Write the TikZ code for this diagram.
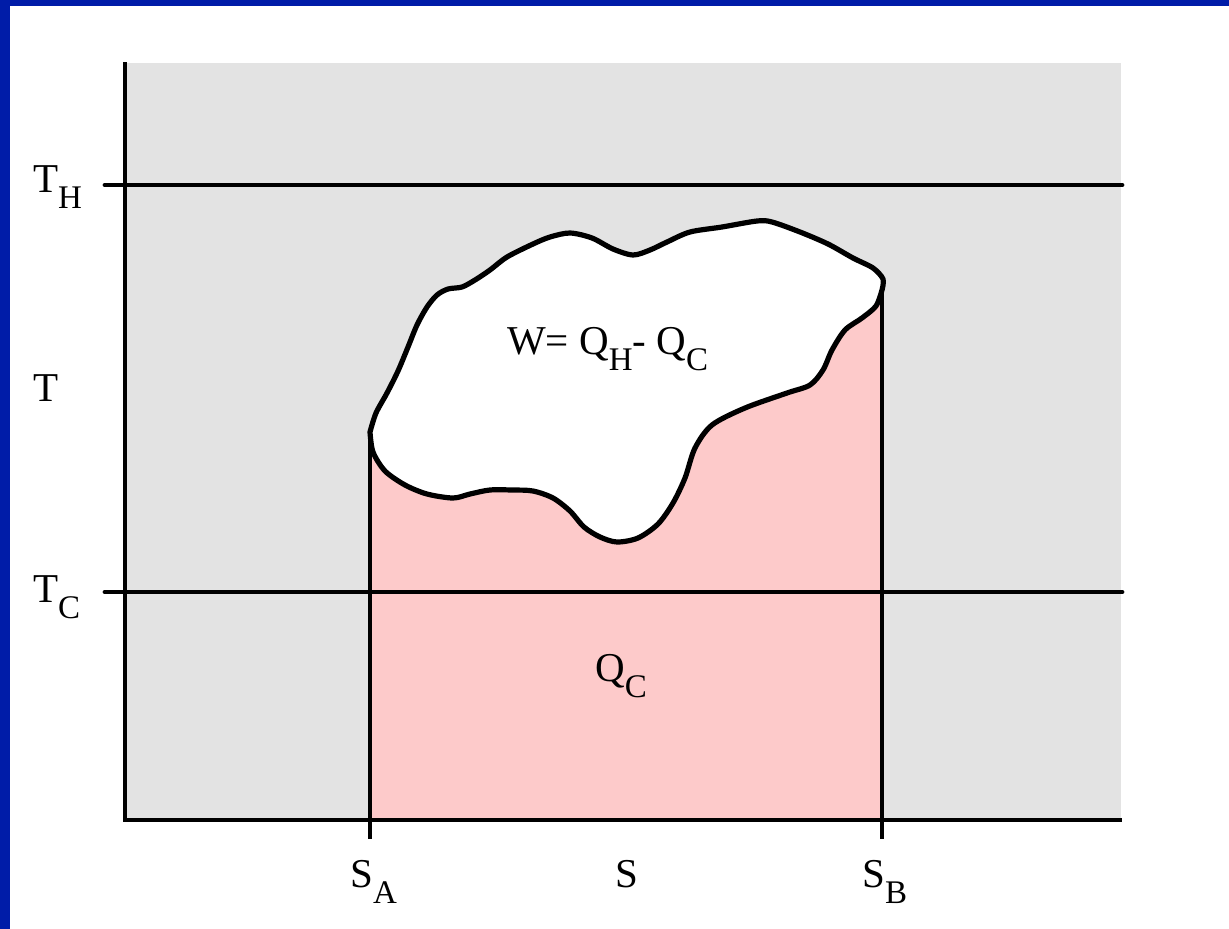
\documentclass[tikz,border=0pt]{standalone}
\usepackage{fontspec}
\setmainfont{Liberation Serif}
\definecolor{frameblue}{RGB}{0,28,168}
\definecolor{plotgray}{RGB}{227,227,227}
\definecolor{heatpink}{RGB}{253,202,202}
\newcommand\lsub[1]{\raisebox{-16pt}{\fontsize{33}{33}\selectfont #1}}
\tikzset{
  lbl/.style={inner sep=0pt, anchor=base west, font=\fontsize{41}{41}\selectfont},
  axisline/.style={line width=4.8pt, black},
  blobline/.style={line width=5.2pt, black, line join=round},
}
\begin{document}
\begin{tikzpicture}[x=1pt,y=-1pt]
\useasboundingbox (0,0) rectangle (1229,929);
\fill[white] (0,0) rectangle (1229,929);
\fill[frameblue] (0,0) rectangle (1229,6);
\fill[frameblue] (0,0) rectangle (10,929);
% plot area
\fill[plotgray] (125,63) rectangle (1121,820);
% coordinates
\coordinate (top) at (125,62);
\coordinate (origin) at (125,820);
\coordinate (xend) at (1122,820);
\coordinate (thl) at (105,185);
\coordinate (thr) at (1122,185);
\coordinate (tcl) at (105,592);
\coordinate (tcr) at (1122,592);
\coordinate (A) at (370,432);
\coordinate (B) at (882,290);
\coordinate (Abot) at (370,839);
\coordinate (Bbot) at (882,839);
\def\bottomcurve{(370,432) (373,452) (385,471) (405,485) (427,494) (453,498) (470,494) (490,490) (512,490) (533,491) (553,498) (570,511) (584,527) (600,537) (617,542) (638,538) (658,524) (673,503) (685,478) (695,448) (712,425) (745,408) (787,393) (810,385) (823,370) (832,350) (845,330) (862,318) (876,306) (882,290)}
\def\topcurve{(882,290) (883,279) (873,268) (853,258) (828,244) (800,232) (772,222) (757,221) (722,227) (690,232) (667,242) (650,250) (633,255) (613,249) (592,238) (570,233) (550,237) (533,244) (507,257) (490,270) (475,280) (462,287) (448,289) (437,295) (427,307) (417,325) (408,347) (398,371) (387,393) (376,413) (370,432)}
% pink region under the lower curve
\fill[heatpink] (370,820) -- plot[smooth] coordinates {\bottomcurve} -- (882,820) -- cycle;
% axes
\draw[axisline] (top) -- (origin) -- (xend);
\draw[axisline, line cap=round] (thl) -- (thr);
\draw[axisline, line cap=round] (tcl) -- (tcr);
\draw[axisline] (A) -- (Abot);
\draw[axisline] (B) -- (Bbot);
% blob
\draw[blobline, fill=white] plot[smooth] coordinates {\bottomcurve} -- plot[smooth] coordinates {\topcurve} -- cycle;
% labels
\node[lbl] (lth) at (33,192) {T\lsub{H}};
\node[lbl] (lt) at (33,401) {T};
\node[lbl] (ltc) at (33,602) {T\lsub{C}};
\node[lbl] (lsa) at (350,887) {S\lsub{A}};
\node[lbl] (ls) at (615,887) {S};
\node[lbl] (lsb) at (862,887) {S\lsub{B}};
\node[lbl] (lqc) at (595,681) {Q\lsub{C}};
\node[lbl] (lw) at (507,354) {W= Q\lsub{H}- Q\lsub{C}};
\end{tikzpicture}
\end{document}
